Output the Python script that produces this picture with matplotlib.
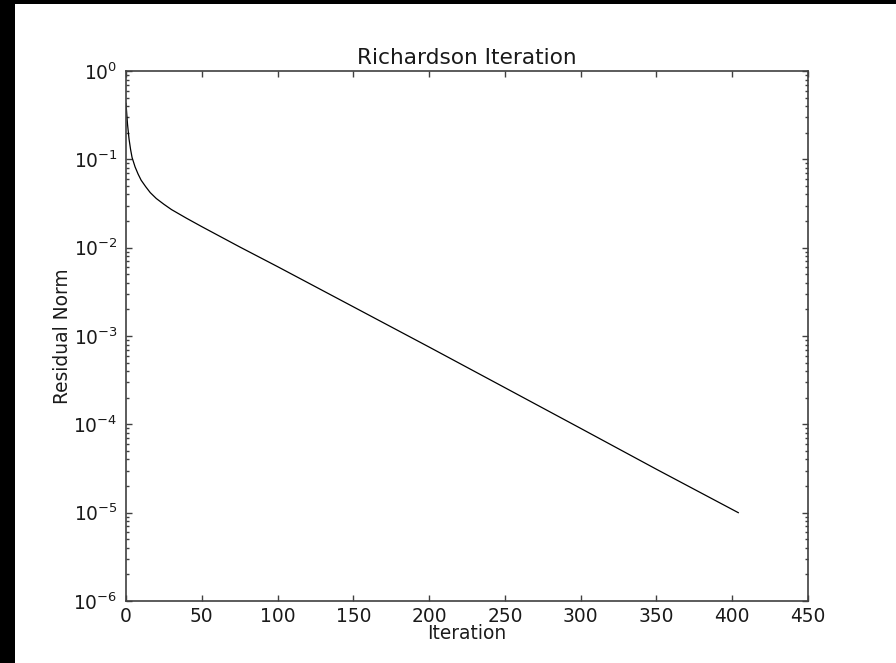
import matplotlib
matplotlib.use('Agg')
import matplotlib.pyplot as plt
from matplotlib.patches import Rectangle

plt.rcParams['axes.unicode_minus'] = False

# residual norm per iteration of the Richardson solver
iterations = [0, 1, 2, 3, 4, 6, 8, 10, 13, 16, 20, 25, 30, 40, 50, 75,
              100, 150, 200, 250, 300, 350, 404]
residuals = [0.43, 0.25, 0.17, 0.13, 0.105, 0.082, 0.068, 0.058, 0.049,
             0.042, 0.036, 0.031, 0.027, 0.0215, 0.0173, 0.0102,
             0.0061, 0.00214, 7.5e-4, 2.6e-4, 9.0e-5, 3.1e-5, 1.0e-5]

x_ticks = [0, 50, 100, 150, 200, 250, 300, 350, 400, 450]

fig = plt.figure(figsize=(8.96, 6.63), dpi=100, facecolor='black')
# white canvas inside the dark frame
fig.patches.append(Rectangle((15 / 896, 0), 1 - 15 / 896, 1 - 4 / 663,
                             transform=fig.transFigure, facecolor='white',
                             edgecolor='none', zorder=-10))

ax = fig.add_axes([126 / 896, 62 / 663, 682 / 896, 530 / 663])
ax.plot(iterations, residuals, color='black', lw=0.9)

ax.set_yscale('log')
ax.set_ylim(1e-6, 1)
ax.set_xlim(0, 450)
ax.set_xticks(x_ticks)

for side in ax.spines.values():
    side.set_color('#404040')
    side.set_linewidth(1.2)

ax.tick_params(which='both', direction='in', top=True, right=True,
               colors='#404040', labelcolor='#1a1a1a', labelsize=13.4)
ax.tick_params(which='major', length=4.5, width=1)
ax.tick_params(which='minor', length=2.3, width=1)
ax.tick_params(axis='x', pad=4)
ax.tick_params(axis='y', pad=6)

ax.set_title('Richardson Iteration', fontsize=15.6, color='#1a1a1a', pad=5)
ax.set_xlabel('Iteration', fontsize=13.4, color='#1a1a1a', labelpad=-1)
ax.set_ylabel('Residual Norm', fontsize=13.4, color='#1a1a1a', labelpad=1)

fig.savefig('out.png', dpi=100, facecolor=fig.get_facecolor())
